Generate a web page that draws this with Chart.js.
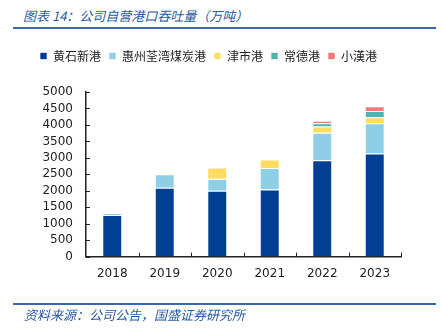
<!DOCTYPE html>
<html>
<head>
<meta charset="utf-8">
<script src="https://cdn.jsdelivr.net/npm/chart.js@4/dist/chart.umd.min.js"></script>
<style>
    body { margin: 0; background: #fff; width: 441px; height: 331px; overflow: hidden; position: relative; }
    #title { position: absolute; left: 23px; top: 6px; font: italic 13px "Noto Sans CJK SC"; color: #2b5aa0; }
    .rule { position: absolute; left: 13px; width: 423px; height: 2px; background: #3a67a8; }
    #note { position: absolute; left: 24px; top: 305px; font: italic 13px "Noto Sans CJK SC"; color: #2b5aa0; }
    #wrap { position: absolute; left: 0; top: 0; width: 441px; height: 331px; }
</style>
</head>
<body>
<div id="title">图表 14：公司自营港口吞吐量（万吨）</div>
<div class="rule" style="top:27px"></div>
<div id="wrap"><canvas id="chart" width="441" height="331"></canvas></div>
<div class="rule" style="top:303px"></div>
<div id="note">资料来源：公司公告，国盛证券研究所</div>

<script>
// 年份
const years = ['2018', '2019', '2020', '2021', '2022', '2023'];

// 各港口吞吐量（万吨）
const huangshi = [1265, 2090, 2000, 2040, 2930, 3135];
const huizhou  = [60, 415, 365, 655, 830, 915];
const jinshi   = [0, 20, 345, 255, 190, 180];
const changde  = [0, 0, 0, 0, 100, 190];
const xiaohan  = [0, 0, 0, 0, 80, 145];

const yTicks = [0, 500, 1000, 1500, 2000, 2500, 3000, 3500, 4000, 4500, 5000];

const mkSet = (label, data, color) => ({
    label: label,
    data: data,
    backgroundColor: color,
    borderColor: 'rgba(255,255,255,0.6)',
    borderWidth: 1,
    barPercentage: 0.76,
    categoryPercentage: 0.5
});

// 图例和绘图区之间多留点空
const legendGap = {
    id: 'legendGap',
    beforeInit(chart) {
        const fit = chart.legend.fit;
        chart.legend.fit = function () {
            fit.bind(this)();
            this.height += 20;
        };
    }
};

// 刻度线朝里画
const innerTicks = {
    id: 'innerTicks',
    afterDraw(chart) {
        const ctx = chart.ctx;
        const x = chart.scales.x, y = chart.scales.y;
        ctx.save();
        ctx.strokeStyle = '#222';
        ctx.lineWidth = 1;
        ctx.beginPath();
        y.ticks.forEach(t => {
            const py = Math.round(y.getPixelForValue(t.value)) + 0.5;
            ctx.moveTo(x.left, py);
            ctx.lineTo(x.left + 4, py);
        });
        for (let i = 1; i <= years.length; i++) {
            const px = Math.round(x.left + (x.right - x.left) * i / years.length) + 0.5;
            ctx.moveTo(px, y.bottom);
            ctx.lineTo(px, y.bottom - 4);
        }
        ctx.stroke();
        ctx.restore();
    }
};

new Chart(document.getElementById('chart').getContext('2d'), {
    type: 'bar',
    data: {
        labels: years,
        datasets: [
            mkSet('黄石新港', huangshi, '#003f94'),
            mkSet('惠州荃湾煤炭港', huizhou, '#8fcfe6'),
            mkSet('津市港', jinshi, '#fddc5e'),
            mkSet('常德港', changde, '#4cb5b1'),
            mkSet('小漢港', xiaohan, '#f07a78')
        ]
    },
    plugins: [legendGap, innerTicks],
    options: {
        responsive: false,
        animation: false,
        layout: { padding: { top: 42, bottom: 40, left: 16, right: 40 } },
        plugins: {
            legend: {
                position: 'top',
                labels: {
                    boxWidth: 7, boxHeight: 7, padding: 8,
                    color: '#222',
                    font: { family: 'Noto Sans CJK SC', size: 12 }
                }
            },
            tooltip: { enabled: false }
        },
        scales: {
            x: {
                stacked: true,
                border: { color: '#222', width: 1.5 },
                grid: { display: false, drawTicks: false, tickLength: 0 },
                ticks: { color: '#222', maxRotation: 0, padding: 10, font: { family: 'DejaVu Sans', size: 12 } }
            },
            y: {
                stacked: true,
                min: 0, max: 5000,
                afterBuildTicks: axis => { axis.ticks = yTicks.map(v => ({ value: v })); },
                afterFit: scale => { scale.width = 70; },
                border: { color: '#222', width: 1.5 },
                grid: { display: false, drawTicks: false, tickLength: 0 },
                ticks: {
                    color: '#222', padding: 13, autoSkip: false,
                    font: { family: 'DejaVu Sans', size: 12 },
                    callback: v => String(v)
                }
            }
        }
    }
});
</script>
</body>
</html>
